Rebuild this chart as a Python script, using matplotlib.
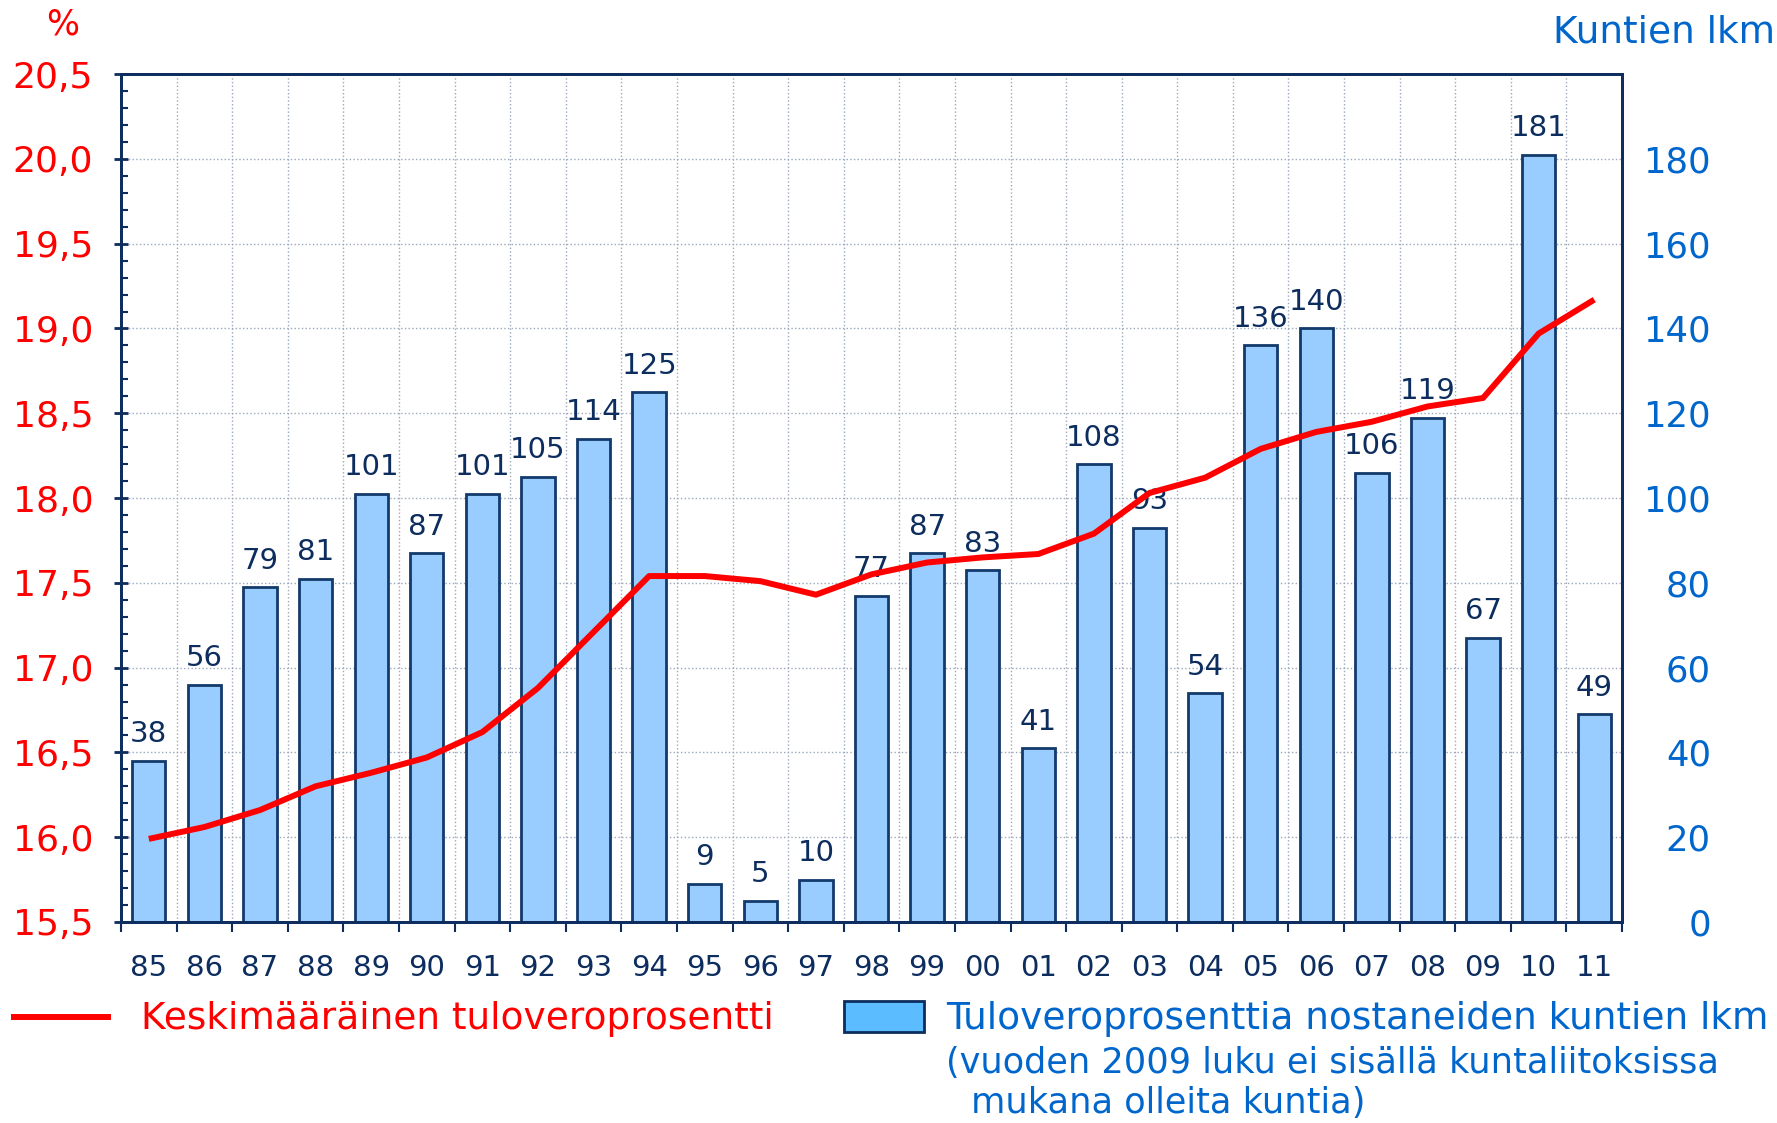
#!/usr/bin/env python3
import matplotlib
matplotlib.use('Agg')  # No DISPLAY
import matplotlib.pyplot as plt
from matplotlib.lines import Line2D
from matplotlib.patches import Rectangle
from matplotlib.ticker import FixedLocator, FuncFormatter, MultipleLocator

# Data
years = ['85', '86', '87', '88', '89', '90', '91', '92', '93', '94', '95', '96', '97', '98',
         '99', '00', '01', '02', '03', '04', '05', '06', '07', '08', '09', '10', '11']
kunnat = [38, 56, 79, 81, 101, 87, 101, 105, 114, 125, 9, 5, 10, 77,
          87, 83, 41, 108, 93, 54, 136, 140, 106, 119, 67, 181, 49]
veroprosentti = [15.99, 16.06, 16.16, 16.30, 16.38, 16.47, 16.62, 16.88, 17.21, 17.54,
                 17.54, 17.51, 17.43, 17.55, 17.62, 17.65, 17.67, 17.79, 18.03, 18.12,
                 18.29, 18.39, 18.45, 18.54, 18.59, 18.97, 19.17]

NAVY = '#0c2d5e'
RED = '#ff0000'
BLUE = '#0066cc'
BAR = '#99ccff'
GRID = '#9aa8bc'

fig = plt.figure(figsize=(17.77, 11.23), dpi=100)
ax = fig.add_axes([0.0681, 0.179, 0.8447, 0.755])
ax_line = ax.twinx()
# bars (right scale) underneath, line (left scale) on top
ax.yaxis.tick_right()
ax_line.yaxis.tick_left()

x = list(range(len(years)))
bars = ax.bar(x, kunnat, width=0.6, color=BAR, edgecolor='#123a6a', linewidth=2, zorder=2)
ax.bar_label(bars, labels=[str(v) for v in kunnat], padding=9, fontsize=21, color=NAVY)
ax_line.plot(x, veroprosentti, color=RED, linewidth=4.3, solid_capstyle='butt', zorder=3)

ax.set_xlim(-0.5, len(years) - 0.5)
ax.set_ylim(0, 200)
ax_line.set_ylim(15.5, 20.5)

# x axis: labels centred, ticks on boundaries
ax.set_xticks(x)
ax.set_xticklabels(years)
ax.xaxis.set_minor_locator(FixedLocator([i - 0.5 for i in range(len(years) + 1)]))
ax.tick_params(axis='x', which='major', length=0, pad=23, labelsize=21, labelcolor=NAVY)
ax.tick_params(axis='x', which='minor', length=7, width=1.5, color=NAVY, direction='out')

# right axis (counts)
ax.yaxis.set_major_locator(MultipleLocator(20))
ax.yaxis.set_major_formatter(FuncFormatter(lambda v, p: '' if v >= 200 else '%d' % v))
ax.tick_params(axis='y', which='major', length=0, pad=64, labelsize=25.5, labelcolor=BLUE)
for lab in ax.get_yticklabels():
    lab.set_horizontalalignment('right')

# left axis (percent)
ax_line.yaxis.set_major_locator(MultipleLocator(0.5))
ax_line.yaxis.set_minor_locator(MultipleLocator(0.1))
ax_line.yaxis.set_major_formatter(FuncFormatter(lambda v, p: ('%.1f' % v).replace('.', ',')))
ax_line.tick_params(axis='y', which='major', direction='inout', length=10, width=2,
                    color=NAVY, pad=15, labelsize=26, labelcolor=RED)
ax_line.tick_params(axis='y', which='minor', direction='in', length=5, width=1.5, color=NAVY)

ax.grid(True, axis='y', which='major', linestyle=':', color=GRID, linewidth=1, zorder=0)
ax.grid(True, axis='x', which='minor', linestyle=':', color=GRID, linewidth=1, zorder=0)
ax.set_axisbelow(True)

for a in (ax, ax_line):
    for s in a.spines.values():
        s.set_color(NAVY)
        s.set_linewidth(2)

fig.text(0.0355, 0.978, '%', color=RED, fontsize=25, ha='center', va='center')
fig.text(0.999, 0.971, 'Kuntien lkm', color=BLUE, fontsize=27, ha='right', va='center')

# legend
fig.add_artist(Line2D([0.008, 0.061], [0.0944, 0.0944], color=RED, linewidth=4.3,
                      transform=fig.transFigure))
fig.text(0.0793, 0.0926, 'Keskimääräinen tuloveroprosentti', color=RED, fontsize=27,
         ha='left', va='center')
fig.add_artist(Rectangle((0.475, 0.081), 0.045, 0.0276, facecolor='#5bbcff',
                         edgecolor=NAVY, linewidth=2, transform=fig.transFigure))
fig.text(0.5323, 0.0926, 'Tuloveroprosenttia nostaneiden kuntien lkm', color=BLUE,
         fontsize=27, ha='left', va='center')
fig.text(0.5323, 0.0534, '(vuoden 2009 luku ei sisällä kuntaliitoksissa', color=BLUE,
         fontsize=25.3, ha='left', va='center')
fig.text(0.5464, 0.0178, 'mukana olleita kuntia)', color=BLUE,
         fontsize=25.3, ha='left', va='center')

fig.savefig('out.png', dpi=100)
